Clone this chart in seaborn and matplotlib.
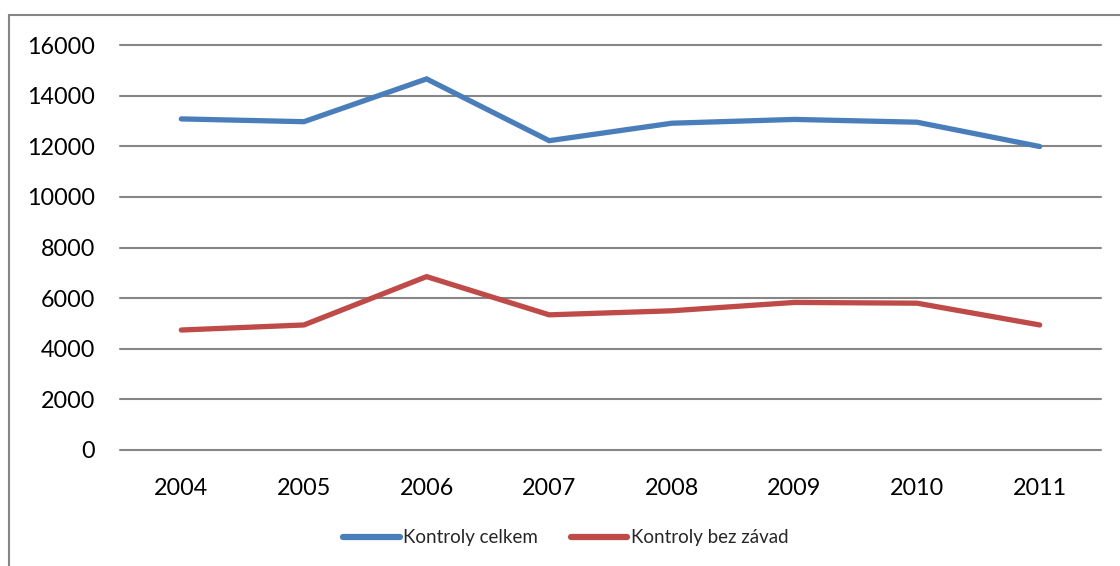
import matplotlib
matplotlib.use("Agg")
import matplotlib.pyplot as plt
import matplotlib.patches as mpatches
import seaborn as sns
import pandas as pd

years = ["2004", "2005", "2006", "2007", "2008", "2009", "2010", "2011"]
celkem = [13080, 12970, 14660, 12220, 12910, 13060, 12950, 11990]
bez_zavad = [4740, 4940, 6850, 5340, 5500, 5830, 5800, 4940]
series_names = ["Kontroly celkem", "Kontroly bez závad"]
colors = ["#4A7EBB", "#BE4B48"]
yticks = [0, 2000, 4000, 6000, 8000, 10000, 12000, 14000, 16000]

df = pd.DataFrame({
    "year": years * 2,
    "value": celkem + bez_zavad,
    "series": [series_names[0]] * len(years) + [series_names[1]] * len(years),
})

sns.set_style("white")
plt.rcParams["font.family"] = ["Lato", "DejaVu Sans"]

W, H = 1120, 566
fig = plt.figure(figsize=(W / 100, H / 100), dpi=100)
ax = fig.add_axes([120 / W, 1 - 450 / H, (1101 - 120) / W, (450 - 45) / H])

sns.lineplot(data=df, x="year", y="value", hue="series", palette=colors,
             linewidth=3.8, ax=ax, sort=False, legend=True, zorder=3)
for ln in ax.get_lines():
    ln.set_solid_capstyle("round")
    ln.set_solid_joinstyle("miter")

ax.set_xlim(-0.5, len(years) - 0.5)
ax.set_ylim(0, 16000)
ax.set_yticks(yticks)
ax.set_yticklabels([str(v) for v in yticks])
ax.grid(axis="y", color="#868686", linewidth=1.5, zorder=0)
ax.grid(axis="x", visible=False)
for ln in ax.get_ygridlines():
    ln.set_clip_on(False)
for s in ax.spines.values():
    s.set_visible(False)
ax.tick_params(axis="y", length=0, pad=18, labelsize=16.8, labelcolor="black")
ax.tick_params(axis="x", length=0, pad=20, labelsize=16.8, labelcolor="black")
ax.set_xlabel("")
ax.set_ylabel("")

leg = ax.legend(handles=ax.get_legend().legend_handles, labels=series_names,
                ncol=2, loc="center", bbox_to_anchor=(566 / W, 1 - 538 / H),
                bbox_transform=fig.transFigure, frameon=False, fontsize=13.5,
                handlelength=3.0, handletextpad=0.2, columnspacing=1.75)
for h in leg.legend_handles:
    h.set_linewidth(4.5)
    h.set_solid_capstyle("round")

# outer chart frame
fig.patches.append(mpatches.Rectangle((9 / W, -0.1), 1.2, (1 - 15 / H) + 0.1,
                                      transform=fig.transFigure, fill=False,
                                      edgecolor="#868686", linewidth=1.5))

fig.savefig("out.png", dpi=100)
